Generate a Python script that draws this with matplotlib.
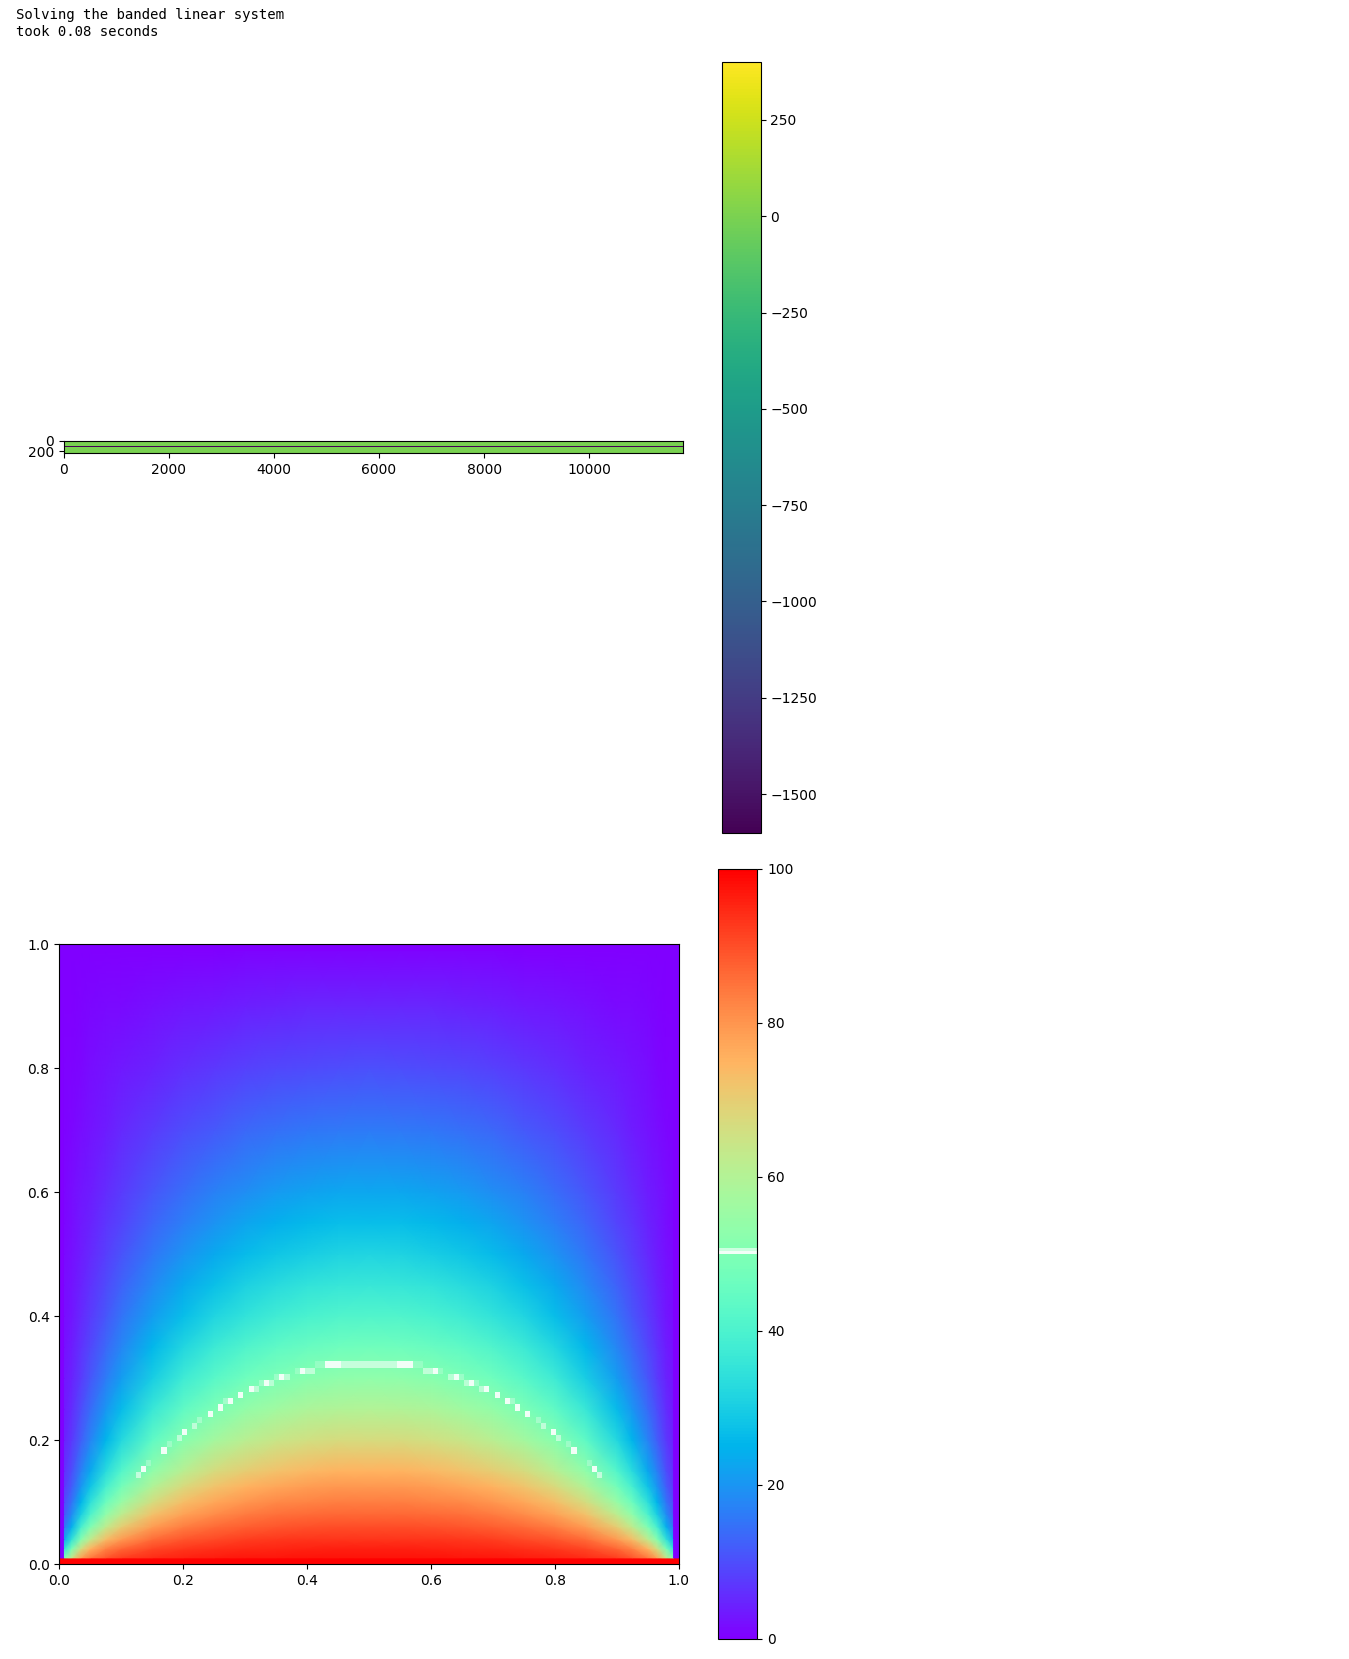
import numpy as np
import matplotlib
matplotlib.use('Agg')
import matplotlib.pyplot as plt
from matplotlib.colors import ListedColormap, Normalize
from matplotlib.cm import ScalarMappable

W, H = 1349, 1659

caption = 'Solving the banded linear system\ntook 0.08 seconds'

# banded matrix: zero everywhere but the main diagonal, which shows as the dark row
band_height = 239
band_width = 11781
diag_row = 119
diag_value = -1600
top_xticks = [0, 2000, 4000, 6000, 8000, 10000]
top_yticks = [0, 200]
top_cb_ticks = [-1500, -1250, -1000, -750, -500, -250, 0, 250]

# temperature, left half of the plate
temp_x = [0.0083, 0.02, 0.035, 0.05, 0.075, 0.1, 0.15, 0.2, 0.25, 0.3, 0.35, 0.4, 0.45, 0.5]
temp_y = [0.0100, 0.025, 0.04, 0.06, 0.08, 0.1, 0.125, 0.15, 0.2, 0.25, 0.3, 0.35, 0.4, 0.45, 0.5, 0.55, 0.6, 0.7, 0.8, 0.9, 0.9899]
temp = [
    [50, 64, 78, 84, 89, 92, 94.5, 95.7, 96.4, 97, 97.2, 97.4, 97.5, 97.5],
    [34, 48.7, 65.8, 74.8, 82.6, 86.7, 90.9, 92.9, 94.1, 94.9, 95.3, 95.6, 95.8, 95.8],
    [22.7, 34.4, 51.5, 62.4, 73.1, 79.2, 85.6, 88.8, 90.6, 91.8, 92.6, 93, 93.3, 93.3],
    [15.5, 24.3, 38.8, 49.8, 62.3, 70.1, 78.8, 83.4, 86.1, 87.8, 88.9, 89.6, 89.9, 90.1],
    [11.6, 18.4, 30.4, 40.6, 53.2, 61.8, 72.3, 78, 81.5, 83.7, 85.2, 86, 86.6, 86.7],
    [9.4, 14.9, 25.1, 34.1, 46.1, 55, 66.5, 73.1, 77.3, 80, 81.7, 82.8, 83.3, 83.5],
    [7.4, 11.9, 20.3, 27.9, 39, 47.7, 59.7, 67.2, 72.1, 75.1, 77.3, 78.6, 79.3, 79.5],
    [6.2, 9.8, 16.8, 23.4, 33.2, 41.6, 53.4, 61.3, 66.8, 70.1, 72.6, 73.9, 75, 75.1],
    [4.4, 7.2, 12.4, 17.5, 25.3, 32.4, 43.5, 51.7, 57.4, 61.3, 64.3, 65.8, 66.8, 67.1],
    [3.4, 5.6, 9.8, 13.7, 20.1, 26.2, 36, 43.9, 49.5, 53.7, 56.6, 58.6, 59.6, 60],
    [2.8, 4.5, 7.8, 11.1, 16.4, 21.3, 30, 37.2, 42.4, 46.7, 49.6, 51.7, 52.8, 53.2],
    [2.3, 3.7, 6.5, 9.2, 13.6, 17.9, 25.5, 31.8, 36.9, 40.8, 43.7, 45.7, 46.8, 47.2],
    [1.9, 3, 5.3, 7.5, 11.3, 14.9, 21.4, 26.9, 31.5, 35.1, 37.8, 39.7, 40.9, 41.2],
    [1.6, 2.6, 4.5, 6.4, 9.5, 12.6, 18.1, 23.1, 27.2, 30.5, 33, 34.8, 35.8, 36.1],
    [1.4, 2.2, 3.8, 5.4, 8, 10.6, 15.4, 19.7, 23.3, 26.2, 28.5, 30, 31, 31.3],
    [1.1, 1.8, 3.2, 4.5, 6.8, 8.9, 13, 16.7, 19.8, 22.4, 24.3, 25.8, 26.6, 26.8],
    [1, 1.6, 2.8, 3.9, 5.8, 7.5, 11, 14.2, 16.8, 19, 20.8, 22.1, 22.8, 23],
    [0.65, 1.1, 1.9, 2.7, 3.9, 5.2, 7.5, 9.8, 11.6, 13.3, 14.5, 15.4, 15.9, 16.1],
    [0.4, 0.65, 1.1, 1.6, 2.4, 3.2, 4.6, 6, 7.2, 8.3, 9.1, 9.7, 10.1, 10.2],
    [0.2, 0.3, 0.5, 0.8, 1.2, 1.5, 2.2, 2.9, 3.5, 4, 4.4, 4.7, 4.9, 4.95],
    [0, 0, 0.05, 0.1, 0.1, 0.15, 0.2, 0.3, 0.35, 0.4, 0.45, 0.5, 0.5, 0.5],
]

# cells of the plate that hit the white colour, left half (the picture is mirrored)
nx, ny = 121, 101
white_col = [15, 16, 17, 20, 21, 23, 24, 26, 27, 29, 31, 32, 33, 35, 37, 38, 39, 40, 41, 42, 43, 44,
             46, 47, 48, 49, 50, 51, 52, 53, 54, 55, 56, 57, 58, 59, 60]
white_row = [14, 15, 16, 18, 19, 20, 21, 22, 23, 24, 25, 26, 26, 27, 28, 28, 29, 29, 29, 30, 30, 30,
             31, 31, 31, 31, 32, 32, 32, 32, 32, 32, 32, 32, 32, 32, 32]
white_alpha = [0.55, 0.9, 0.25, 0.9, 0.25, 0.5, 0.9, 0.5, 0.3, 0.9, 0.9, 0.3, 0.9, 0.9, 0.9, 0.45, 0.25, 0.9, 0.45, 0.25, 0.9, 0.45,
               0.2, 0.9, 0.5, 0.5, 0.2, 0.2, 0.9, 0.9, 0.9, 0.55, 0.55, 0.55, 0.55, 0.55, 0.55]
bottom_ticks = [0.0, 0.2, 0.4, 0.6, 0.8, 1.0]
bottom_cb_ticks = [0, 20, 40, 60, 80, 100]


def pixel_axes(fig, left, top, right, bottom):
    return fig.add_axes([left / W, 1 - bottom / H, (right - left) / W, (bottom - top) / H])


fig = plt.figure(figsize=(W / 100, H / 100), dpi=100)
fig.text(16.5 / W, 1 - 8 / H, caption, family='DejaVu Sans Mono', fontsize=10.12, va='top', linespacing=1.24)

# upper picture: banded matrix, coarse rows so the diagonal stays one pixel high
n_show = 13
ab = np.zeros((n_show, 4))
ab[diag_row * n_show // band_height, :] = diag_value
ax1 = pixel_axes(fig, 63.5, 441.0, 682.9, 453.2)
im1 = ax1.imshow(ab, cmap='viridis', vmin=-1600, vmax=400, aspect='auto', interpolation='nearest',
                 extent=(0, band_width, band_height, 0))
ax1.set_xticks(top_xticks)
ax1.set_yticks(top_yticks)

cax1 = pixel_axes(fig, 722.4, 62.2, 760.6, 832.6)
cb1 = fig.colorbar(im1, cax=cax1, ticks=top_cb_ticks)

# lower picture: temperature on the plate
half = np.array(temp)
xs = np.array([0.0, 0.0082] + temp_x + [1 - v for v in temp_x[-2::-1]] + [0.9918, 1.0])
ys = np.array([0.0, 0.0099] + temp_y + [0.99, 1.0])
body = np.hstack([np.zeros((len(temp_y), 2)), half, half[:, -2::-1], np.zeros((len(temp_y), 2))])
field = np.vstack([np.full((2, len(xs)), 100.0), body, np.zeros((2, len(xs)))])

ax2 = pixel_axes(fig, 59.3, 944, 678.7, 1564)
ax2.pcolormesh(xs, ys, field, cmap='rainbow', vmin=0, vmax=100, shading='gouraud')

white_cells = np.zeros((ny, nx, 4))
white_cells[..., :3] = 1.0
for c, r, a in zip(white_col, white_row, white_alpha):
    white_cells[r, c, 3] = a
    white_cells[r, nx - 1 - c, 3] = a
ax2.imshow(white_cells, origin='lower', extent=(0, 1, 0, 1), interpolation='nearest', aspect='auto', zorder=2)
ax2.set_xlim(0, 1)
ax2.set_ylim(0, 1)
ax2.set_xticks(bottom_ticks)
ax2.set_yticks(bottom_ticks)

# same rainbow, with the white sliver shown in the colorbar
bar_colors = plt.get_cmap('rainbow')(np.linspace(0, 1, 256))
bar_colors[128] = (0.95, 1.0, 0.97, 1.0)
bar_colors[129] = (0.8, 1.0, 0.88, 1.0)
bar_cmap = ListedColormap(bar_colors)
cax2 = pixel_axes(fig, 718.4, 869.0, 757.3, 1639)
fig.colorbar(ScalarMappable(Normalize(0, 100), bar_cmap), cax=cax2, ticks=bottom_cb_ticks)

fig.savefig('out.png', dpi=100)
